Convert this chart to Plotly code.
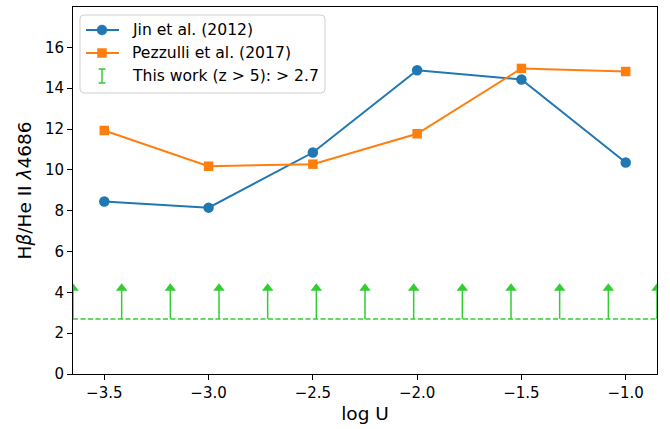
import plotly.graph_objects as go

# ---- data ----
log_u = [-3.5, -3.0, -2.5, -2.0, -1.5, -1.0]
jin_2012 = [8.45, 8.15, 10.85, 14.88, 14.43, 10.36]
pezzulli_2017 = [11.93, 10.18, 10.28, 11.77, 14.97, 14.82]
this_work_limit = 2.7
arrow_top = 4.2
arrow_x = [-3.65, -3.4167, -3.1833, -2.95, -2.7167, -2.4833, -2.25,
           -2.0167, -1.7833, -1.55, -1.3167, -1.0833, -0.85]
x_range = [-3.65, -0.85]
y_range = [0, 17.98]
x_ticks = [-3.5, -3.0, -2.5, -2.0, -1.5, -1.0]
x_ticktext = ["\u22123.5", "\u22123.0", "\u22122.5", "\u22122.0", "\u22121.5", "\u22121.0"]
y_ticks = [0, 2, 4, 6, 8, 10, 12, 14, 16]

BLUE = "#1f77b4"
ORANGE = "#ff7f0e"
GREEN = "#32cd32"
FONT = "DejaVu Sans"

W, H = 670, 429
L, R, T, B = 73, 13, 7, 55
PW, PH = W - L - R, H - T - B


def px(xp):
    return (xp - L) / PW


def py(yp):
    return (H - B - yp) / PH


fig = go.Figure()

# green limit line
fig.add_trace(go.Scatter(x=x_range, y=[this_work_limit, this_work_limit], mode="lines",
                         line=dict(color=GREEN, width=1.5, dash="5px,2.5px"),
                         showlegend=False, hoverinfo="skip"))
# arrow shafts
sx, sy = [], []
for xv in arrow_x:
    sx += [xv, xv, None]
    sy += [this_work_limit, arrow_top, None]
fig.add_trace(go.Scatter(x=sx, y=sy, mode="lines", line=dict(color=GREEN, width=1.5),
                         showlegend=False, hoverinfo="skip"))
fig.add_trace(go.Scatter(x=arrow_x, y=[arrow_top] * len(arrow_x), mode="markers",
                         marker=dict(symbol="triangle-up", size=10, color=GREEN),
                         cliponaxis=True, showlegend=False, hoverinfo="skip"))

fig.add_trace(go.Scatter(x=log_u, y=jin_2012, mode="lines+markers", name="Jin et al. (2012)",
                         line=dict(color=BLUE, width=2),
                         marker=dict(symbol="circle", size=10.5, color=BLUE),
                         showlegend=False))
fig.add_trace(go.Scatter(x=log_u, y=pezzulli_2017, mode="lines+markers", name="Pezzulli et al. (2017)",
                         line=dict(color=ORANGE, width=2),
                         marker=dict(symbol="square", size=9.5, color=ORANGE),
                         showlegend=False))

shapes = []
annotations = []

# manual legend box (rounded)
x0, x1, y0, y1, r = 80, 325, 15, 93, 4
path = (f"M {px(x0 + r)},{py(y0)} L {px(x1 - r)},{py(y0)} Q {px(x1)},{py(y0)} {px(x1)},{py(y0 + r)} "
        f"L {px(x1)},{py(y1 - r)} Q {px(x1)},{py(y1)} {px(x1 - r)},{py(y1)} "
        f"L {px(x0 + r)},{py(y1)} Q {px(x0)},{py(y1)} {px(x0)},{py(y1 - r)} "
        f"L {px(x0)},{py(y0 + r)} Q {px(x0)},{py(y0)} {px(x0 + r)},{py(y0)} Z")
shapes.append(dict(type="path", xref="paper", yref="paper", path=path,
                   line=dict(color="#d0d0d0", width=1), fillcolor="rgba(255,255,255,0.8)"))

rows = [(30, "Jin et al. (2012)", BLUE, "circle"),
        (53, "Pezzulli et al. (2017)", ORANGE, "square"),
        (76, "This work (z > 5): > 2.7", GREEN, "err")]
for yrow, label, col, kind in rows:
    if kind == "err":
        shapes.append(dict(type="line", xref="paper", yref="paper", x0=px(102), x1=px(102),
                           y0=py(69), y1=py(83), line=dict(color=GREEN, width=1.5)))
        for yc in (69, 83):
            shapes.append(dict(type="line", xref="paper", yref="paper", x0=px(98.5), x1=px(105.5),
                               y0=py(yc), y1=py(yc), line=dict(color=GREEN, width=1.5)))
    else:
        shapes.append(dict(type="line", xref="paper", yref="paper", x0=px(86), x1=px(119),
                           y0=py(yrow), y1=py(yrow), line=dict(color=col, width=2)))
        s = 5 if kind == "circle" else 4.5
        shapes.append(dict(type="circle" if kind == "circle" else "rect", xref="paper", yref="paper",
                           x0=px(102 - s), x1=px(102 + s), y0=py(yrow - s), y1=py(yrow + s),
                           line=dict(color=col, width=0.5), fillcolor=col))
    annotations.append(dict(x=px(130), y=py(yrow), xref="paper", yref="paper", text=label,
                            showarrow=False, xanchor="left", yanchor="middle",
                            font=dict(family=FONT, size=15.6, color="black")))

fig.update_layout(
    width=W, height=H,
    margin=dict(l=L, r=R, t=T, b=B, autoexpand=False),
    paper_bgcolor="white", plot_bgcolor="white",
    font=dict(family=FONT, size=15, color="black"),
    shapes=shapes, annotations=annotations,
    showlegend=False,
)
fig.update_xaxes(range=x_range, tickvals=x_ticks, ticktext=x_ticktext,
                 showgrid=False, zeroline=False, showline=True, linecolor="black", linewidth=1,
                 mirror=True, ticks="outside", ticklen=5, tickcolor="black", automargin=False,
                 tickfont=dict(family=FONT, size=15),
                 title=dict(text="log U", font=dict(family=FONT, size=18.5), standoff=6))
fig.update_yaxes(range=y_range, tickvals=y_ticks,
                 showgrid=False, zeroline=False, showline=True, linecolor="black", linewidth=1,
                 mirror=True, ticks="outside", ticklen=5, tickcolor="black", automargin=False,
                 tickfont=dict(family=FONT, size=15),
                 title=dict(text="H<i>β</i>/He II <i>λ</i>4686", font=dict(family=FONT, size=18.5), standoff=8))

fig.write_html("out.html", config={"displayModeBar": False},
               post_script="document.body.style.margin='0';document.body.style.overflow='hidden';")
